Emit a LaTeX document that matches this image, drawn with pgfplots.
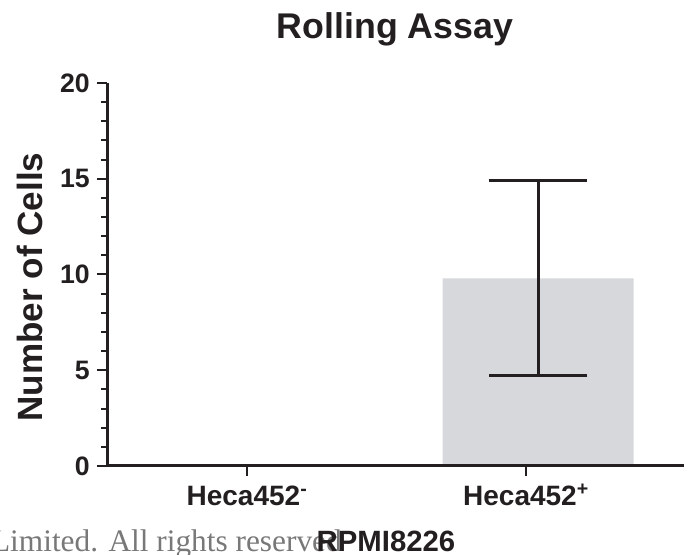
\documentclass[border=0pt]{standalone}
\usepackage{pgfplots}
\pgfplotsset{compat=1.18}
\usepackage{fontspec}
\setmainfont{Liberation Sans}
\newfontfamily\serifwm{Liberation Serif}
\definecolor{ink}{RGB}{35,31,32}
\definecolor{barfill}{RGB}{214,216,219}
\definecolor{wm}{RGB}{120,120,120}
\begin{document}
\begin{tikzpicture}
\useasboundingbox (0,0) rectangle (520.5pt,416.25pt);
\node[anchor=base east, inner sep=0pt, text=wm, font=\serifwm\fontsize{23.5}{26}\selectfont] at (256.5pt,2.25pt) {Limited. All rights reserved};
\begin{axis}[
  at={(80.25pt,66.75pt)}, anchor=south west,
  scale only axis, width=432.75pt, height=287.25pt,
  xmin=-0.502, xmax=1.566, ymin=0, ymax=20,
  axis x line=bottom, axis y line=left,
  axis line style={-, line width=2.25pt, draw=ink},
  axis on top,
  xtick={0,1},
  xticklabels={Heca452\textsuperscript{-}, Heca452\textsuperscript{+}},
  ytick={0,5,10,15,20}, minor y tick num=4, minor x tick num=0,
  tick align=outside, major tick length=7.5pt, minor tick length=4.5pt,
  every tick/.style={draw=ink, line width=1.5pt},
  /pgf/number format/assume math mode=true,
  yticklabel style={font=\bfseries\fontsize{20}{22}\selectfont, text=ink, anchor=east, inner sep=0pt, xshift=-5.25pt},
  xticklabel style={font=\bfseries\fontsize{21}{23}\selectfont, text=ink, anchor=base, inner sep=0pt, yshift=-22.5pt},
]
\addplot[ybar, bar width=143.25pt, bar shift=9pt, fill=barfill, draw=none]
  coordinates {(0,0) (1,9.8)};
\addplot[forget plot, draw=none, no markers, xshift=9pt,
  error bars/.cd, y dir=both, y explicit,
  error bar style={draw=ink, line width=2.25pt, solid},
  error mark options={draw=ink, line width=2.25pt, mark size=37pt, rotate=90, solid}]
  coordinates {(1,9.8) +- (0,5.1)};
\end{axis}
\node[anchor=base, inner sep=0pt, text=ink, font=\bfseries\fontsize{26.8}{30}\selectfont] at (296.25pt,387pt) {Rolling Assay};
\node[anchor=base, inner sep=0pt, text=ink, font=\bfseries\fontsize{22}{24}\selectfont] at (289.5pt,2.25pt) {RPMI8226};
\node[rotate=90, anchor=base, inner sep=0pt, text=ink, font=\bfseries\fontsize{26.3}{28}\selectfont] at (31.5pt,201pt) {Number of Cells};
\end{tikzpicture}
\end{document}
